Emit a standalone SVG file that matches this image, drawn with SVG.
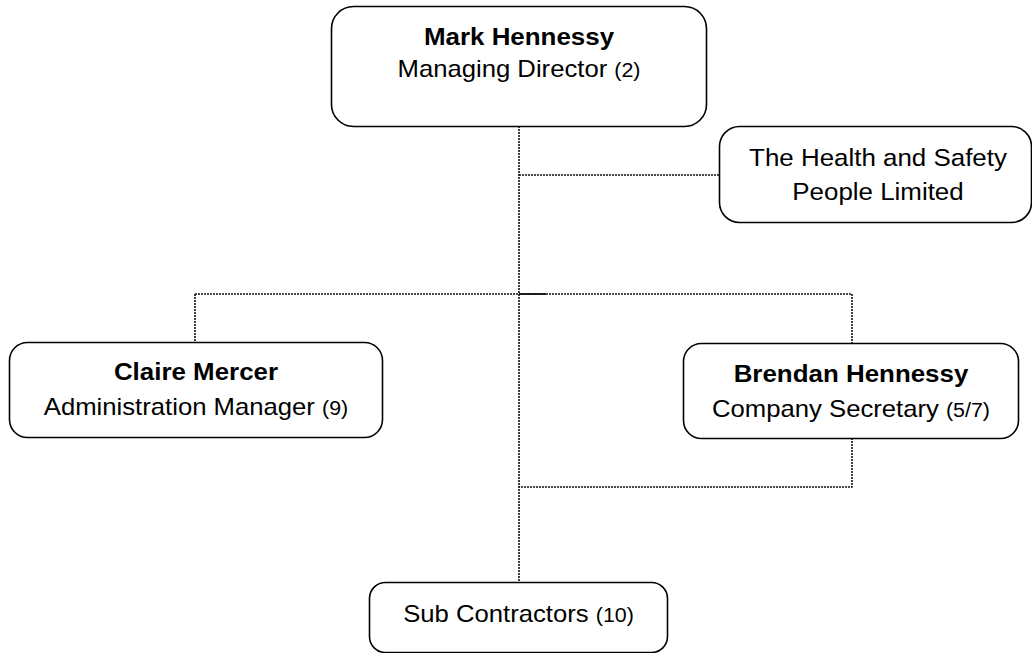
<svg xmlns="http://www.w3.org/2000/svg" width="1032" height="653" viewBox="0 0 1032 653">
<style>
.box{fill:#fff;stroke:#000;stroke-width:1.6}
.t{font-family:"Liberation Sans",Arial,sans-serif;font-size:24px;fill:#000;text-anchor:middle}
.b{font-weight:bold}
.s{font-size:20px}
.c{fill:none;stroke:#111;stroke-width:1.6;stroke-dasharray:2 1}
</style>
<rect width="1032" height="653" fill="#fff"/>
<g id="connectors">
<path class="c" d="M519 126V582"/>
<path class="c" d="M519 175H719"/>
<path class="c" d="M195 294H852"/>
<path class="c" d="M195 294V343"/>
<path class="c" d="M852 294V343"/>
<path class="c" d="M852 438V487H519"/>
<path d="M519 294H546" stroke="#111" stroke-width="1.8" fill="none"/>
</g>
<g id="mark">
<rect class="box" x="331.5" y="6.5" width="375" height="120" rx="22"/>
<text class="t b" transform="translate(519 45) scale(1.08 1)">Mark Hennessy</text>
<text class="t" transform="translate(519 77) scale(1.07 1)">Managing Director <tspan class="s">(2)</tspan></text>
</g>
<g id="hs">
<rect class="box" x="719.5" y="126.5" width="312" height="96" rx="20"/>
<text class="t" transform="translate(878 166) scale(1.08 1)">The Health and Safety</text>
<text class="t" transform="translate(878 200) scale(1.08 1)">People Limited</text>
</g>
<g id="claire">
<rect class="box" x="9.5" y="342.5" width="373" height="95" rx="18"/>
<text class="t b" transform="translate(196 380) scale(1.08 1)">Claire Mercer</text>
<text class="t" transform="translate(196 415) scale(1.07 1)">Administration Manager <tspan class="s">(9)</tspan></text>
</g>
<g id="brendan">
<rect class="box" x="683.5" y="343.5" width="335" height="95" rx="18"/>
<text class="t b" transform="translate(851 382) scale(1.08 1)">Brendan Hennessy</text>
<text class="t" transform="translate(851 417) scale(1.07 1)">Company Secretary <tspan class="s">(5/7)</tspan></text>
</g>
<g id="sub">
<rect class="box" x="369.5" y="582.5" width="298" height="70" rx="16"/>
<text class="t" transform="translate(518.5 622) scale(1.07 1)">Sub Contractors <tspan class="s">(10)</tspan></text>
</g>
</svg>
